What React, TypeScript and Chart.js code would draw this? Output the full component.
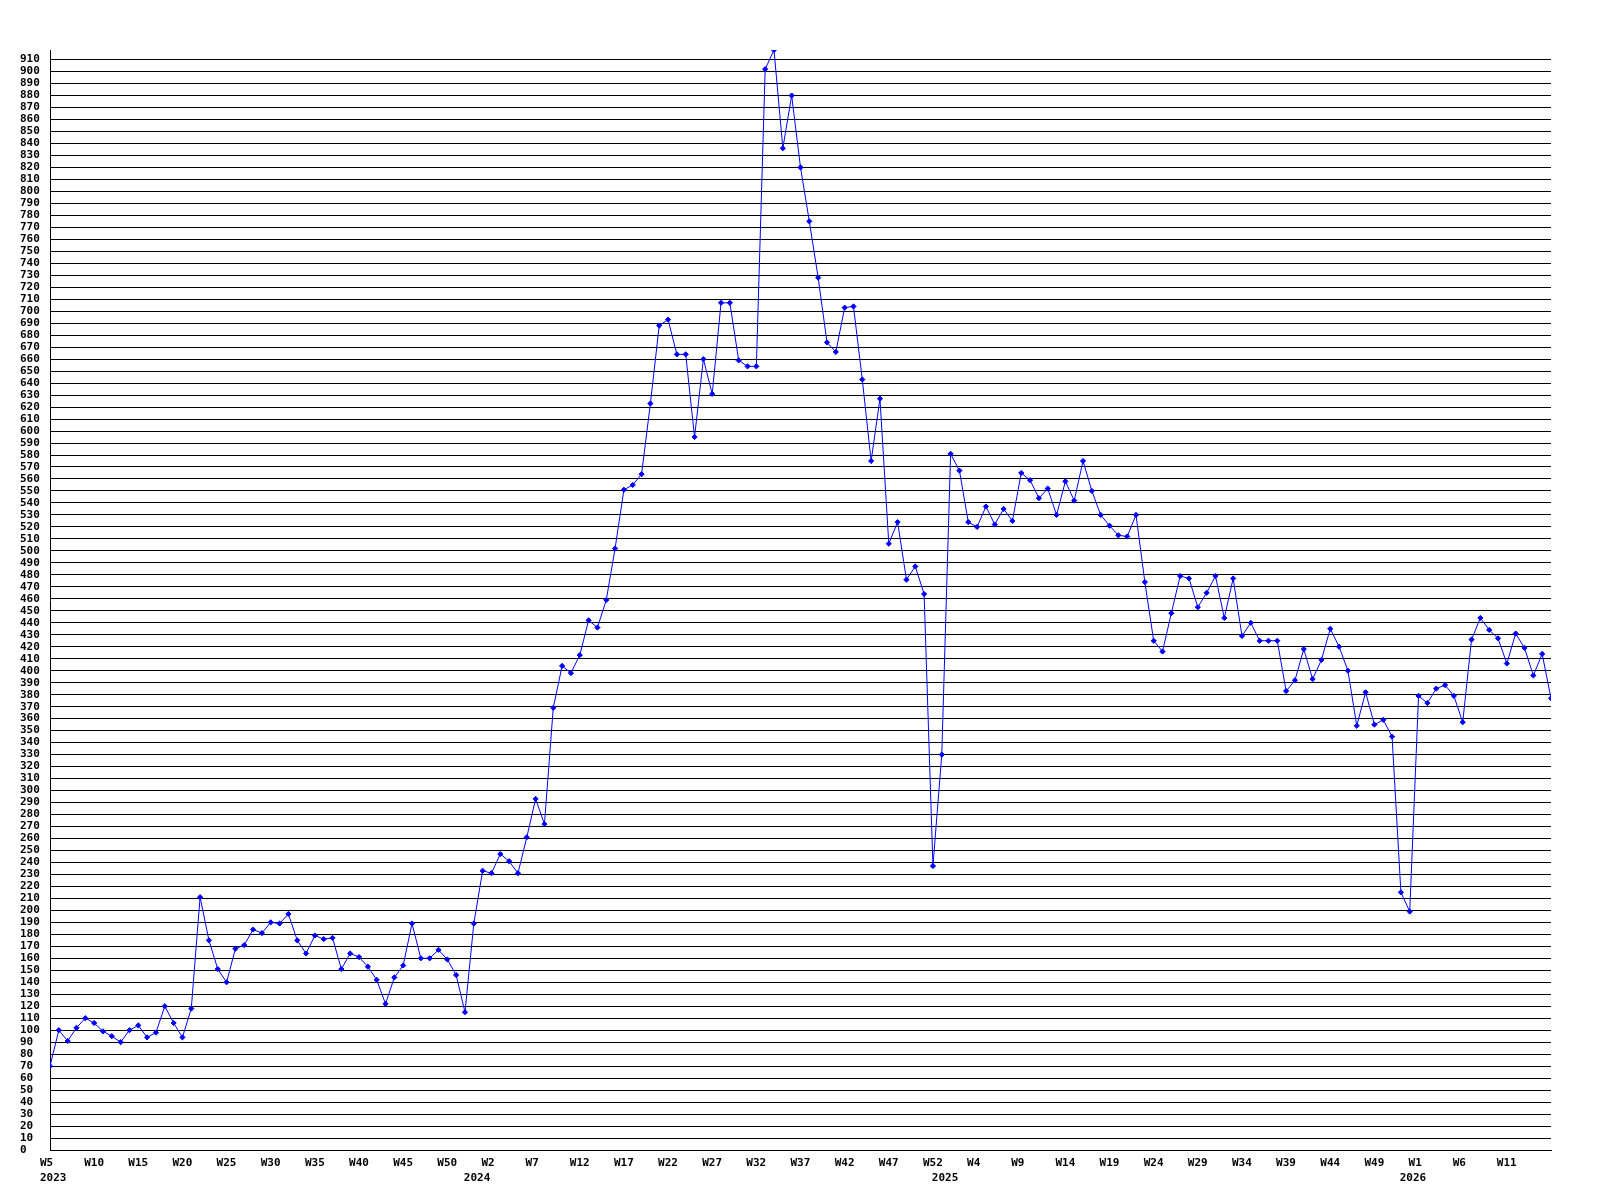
import React, { useEffect, useRef } from 'react';
import { Chart, registerables } from 'chart.js';

Chart.register(...registerables);

// Year segments of the weekly series
const years = [2023, 2024, 2025, 2026];
const firstWeeks = [5, 0, 0, 0];

// Weekly values per year
const values2023 = [
  70, 100, 91, 102, 110, 106, 99, 95, 90, 100,
  104, 94, 98, 120, 106, 94, 118, 211, 175, 151,
  140, 168, 171, 184, 181, 190, 189, 197, 175, 164,
  179, 176, 177, 151, 164, 161, 153, 142, 122, 144,
  154, 189, 160, 160, 167, 159, 146, 115,
];
const values2024 = [
  189, 233, 231, 247, 241, 231, 261, 293, 272, 369,
  404, 398, 413, 442, 436, 459, 502, 551, 555, 564,
  623, 688, 693, 664, 664, 595, 660, 631, 707, 707,
  659, 654, 654, 902, 918, 836, 880, 820, 775, 728,
  674, 666, 703, 704, 643, 575, 627, 506, 524, 476,
  487, 464, 237,
];
const values2025 = [
  330, 581, 567, 524, 520, 537, 522, 535, 525, 565,
  559, 544, 552, 530, 558, 542, 575, 550, 530, 521,
  513, 512, 530, 474, 425, 416, 448, 479, 477, 453,
  465, 479, 444, 477, 429, 440, 425, 425, 425, 383,
  392, 418, 393, 409, 435, 420, 400, 354, 382, 355,
  359, 345, 215,
];
const values2026 = [
  199, 379, 373, 385, 388, 379, 357, 426, 444, 434,
  427, 406, 431, 419, 396, 414, 377,
];

const seriesByYear = [values2023, values2024, values2025, values2026];
const yTickStep = 10;
const weekLabelEvery = 5;

type Cat = { year: number; week: number; firstOfYear: boolean };
const categories: Cat[] = [];
seriesByYear.forEach((vals, yi) =>
  vals.forEach((_, k) =>
    categories.push({ year: years[yi], week: firstWeeks[yi] + k, firstOfYear: k === 0 })
  )
);
const values = seriesByYear.flat();
const labels = categories.map((c) => `${c.year}-W${c.week}`);

const tickFont = {
  family: "'DejaVu Sans Mono', monospace",
  size: 11,
  weight: 'bold' as const,
  lineHeight: '15px',
};

export default function App() {
  const ref = useRef<HTMLCanvasElement | null>(null);

  useEffect(() => {
    document.body.style.margin = '0';
    const canvas = ref.current;
    if (!canvas) return;
    const chart = new Chart(canvas, {
      type: 'line',
      data: {
        labels,
        datasets: [
          {
            data: values,
            borderColor: '#0000ff',
            backgroundColor: '#0000ff',
            borderWidth: 1,
            tension: 0,
            clip: 0,
            pointStyle: 'rectRot',
            pointRadius: 2.6,
            pointBorderWidth: 1,
            pointBackgroundColor: '#0000ff',
            pointBorderColor: '#0000ff',
            fill: false,
          },
        ],
      },
      options: {
        animation: false,
        responsive: false,
        devicePixelRatio: 1,
        layout: { padding: { left: 20, top: 50, right: 49, bottom: 0 } },
        plugins: {
          legend: { display: false },
          tooltip: { enabled: false },
          title: { display: false },
        },
        scales: {
          x: {
            type: 'category',
            offset: false,
            grid: { display: false, drawTicks: false },
            border: { display: true, color: '#000000', width: 1 },
            afterFit: (scale: any) => {
              scale.height = 50;
            },
            ticks: {
              autoSkip: false,
              maxRotation: 0,
              minRotation: 0,
              align: 'start',
              labelOffset: -10,
              padding: 6,
              color: '#000000',
              font: tickFont,
              callback: (_v: any, index: number) => {
                const c = categories[index];
                const showWeek = index % weekLabelEvery === 0 && index < categories.length - 1;
                const w = showWeek ? 'W' + c.week : '';
                if (c.firstOfYear) return [w, String(c.year)];
                return w;
              },
            },
          },
          y: {
            type: 'linear',
            min: 0,
            max: Math.max(...values),
            grid: { display: true, color: '#000000', lineWidth: 1, drawTicks: false },
            border: { display: true, color: '#000000', width: 1 },
            afterFit: (scale: any) => {
              scale.width = 30;
            },
            ticks: {
              stepSize: yTickStep,
              autoSkip: false,
              includeBounds: false,
              crossAlign: 'far',
              padding: 10,
              color: '#000000',
              font: { ...tickFont, lineHeight: 1.2 },
            },
          },
        },
      },
    } as any);
    return () => chart.destroy();
  }, []);

  return (
    <div style={{ width: 1600, height: 1200, background: '#ffffff' }}>
      <canvas ref={ref} width={1600} height={1200} style={{ display: 'block', width: 1600, height: 1200 }} />
    </div>
  );
}
